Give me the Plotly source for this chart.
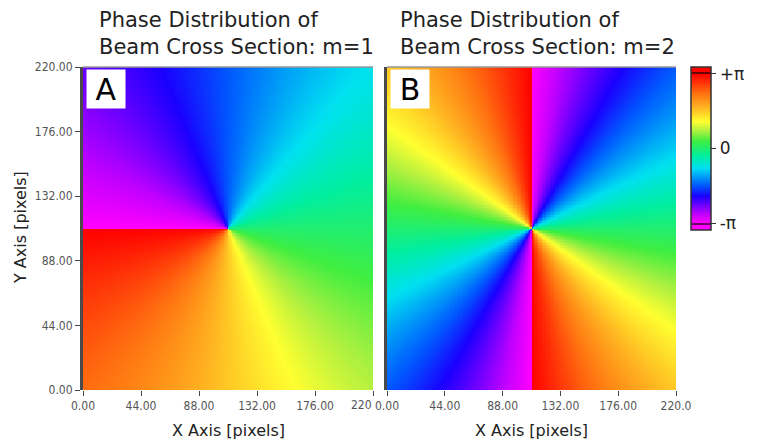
import numpy as np
import plotly.graph_objects as go

# ---- data ----
x_px = np.arange(0, 220) + 0.5          # pixel-centre x coordinates
y_px = np.arange(0, 220) + 0.5          # pixel-centre y coordinates
beam_center = [110.0, 110.0]            # vortex centre (x, y)
charges = [1, 2]                        # topological charge m for panels A, B
panel_letters = ["A", "B"]
tick_vals = [0, 44, 88, 132, 176, 220]
tick_text_a = ["0.00", "44.00", "88.00", "132.00", "176.00", ""]
tick_text_b = ["0.00", "44.00", "88.00", "132.00", "176.00", "220.0"]
y_tick_text = ["0.00", "44.00", "88.00", "132.00", "176.00", "220.00"]
clipped_label_a = "220"
cbar_vals = [-np.pi, 0, np.pi]
cbar_text = ["-π", "0", "+π"]

X, Y = np.meshgrid(x_px, y_px)
base_angle = np.arctan2(Y - beam_center[1], X - beam_center[0])


def phase_for(m):
    ph = -m * base_angle
    return np.angle(np.exp(1j * ph))


phases = [phase_for(m) for m in charges]

# ---- colour scale (u over -pi..+pi) ----
inner = [
    (0.00, "#ff00ff"),
    (0.06, "#c000ff"),
    (0.18, "#1a00ff"),
    (0.25, "#0058ff"),
    (0.37, "#00e0f0"),
    (0.45, "#00eea0"),
    (0.55, "#40ee40"),
    (0.62, "#b0f040"),
    (0.68, "#ffff30"),
    (0.78, "#ffb020"),
    (0.87, "#ff7010"),
    (1.00, "#ff0000"),
]
delta = 0.093 * np.pi
zmin, zmax = -np.pi - delta, np.pi + delta


def pos(v):
    return (v - zmin) / (zmax - zmin)


lo, hi = pos(-np.pi), pos(np.pi)
cscale = [[0.0, "#ff00ff"], [lo - 0.013, "#ff00ff"], [lo - 0.012, "#6a006a"], [lo - 0.002, "#6a006a"]]
for u, c in inner:
    cscale.append([pos(u * 2 * np.pi - np.pi), c])
cscale += [[hi + 0.002, "#6a0000"], [hi + 0.012, "#6a0000"], [hi + 0.013, "#ff0000"], [1.0, "#ff0000"]]

fig = go.Figure()
for i, ph in enumerate(phases):
    fig.add_trace(go.Heatmap(
        x=x_px, y=y_px, z=ph, coloraxis="coloraxis",
        xaxis="x" if i == 0 else "x2", yaxis="y" if i == 0 else "y2",
        hoverinfo="skip",
    ))

W, H = 760, 440
OFF = 8  # page body margin


def fx(px):
    return (px - OFF) / W


def fy(py):
    return 1 - (py - OFF) / H


ax_a = [fx(83), fx(373)]
ax_b = [fx(387), fx(676)]
ydom = [fy(390), fy(67)]

tickfont = dict(family="DejaVu Sans Condensed, Liberation Sans Narrow, sans-serif", size=12, color="#555")
common_x = dict(range=[0, 220], tickvals=tick_vals, ticks="outside", ticklen=5, tickwidth=1,
                tickcolor="#444", tickfont=tickfont, showgrid=False, zeroline=False,
                showline=False, automargin=False)
fig.update_layout(
    width=W, height=H,
    margin=dict(l=0, r=0, t=0, b=0, autoexpand=False),
    paper_bgcolor="white", plot_bgcolor="white",
    xaxis=dict(domain=ax_a, anchor="y", ticktext=tick_text_a, **common_x),
    xaxis2=dict(domain=ax_b, anchor="y2", ticktext=tick_text_b, **common_x),
    yaxis=dict(domain=ydom, anchor="x", range=[0, 220], tickvals=tick_vals, ticktext=y_tick_text,
               ticks="outside", ticklen=5, tickcolor="#444", tickfont=tickfont, automargin=False,
               showgrid=False, zeroline=False, showline=True, linecolor="#4a4a4a", linewidth=3),
    yaxis2=dict(domain=ydom, anchor="x2", range=[0, 220], showticklabels=False, ticks="", automargin=False,
                showgrid=False, zeroline=False, showline=True, linecolor="#4a4a4a", linewidth=3),
    coloraxis=dict(
        colorscale=cscale, cmin=zmin, cmax=zmax,
        colorbar=dict(
            x=fx(681), xanchor="left", y=fy(148.5), yanchor="middle",
            thickness=20, thicknessmode="pixels", len=163, lenmode="pixels",
            outlinecolor="#333", outlinewidth=1.5, xpad=10, ypad=0,
            tickvals=cbar_vals, ticktext=cbar_text, ticks="outside", ticklen=5,
            tickcolor="#333", tickfont=dict(family="DejaVu Sans, sans-serif", size=17, color="#222"),
        ),
    ),
    font=dict(family="DejaVu Sans, sans-serif"),
)

titles_x = [97, 398]
annotations = []
for i, m in enumerate(charges):
    annotations.append(dict(
        x=fx(titles_x[i]), y=fy(6), xref="paper", yref="paper", xanchor="left", yanchor="top",
        text=f"Phase Distribution of<br>Beam Cross Section: m={m}", showarrow=False, align="left",
        font=dict(family="DejaVu Sans, sans-serif", size=21, color="#222"),
    ))
    dom = ax_a if i == 0 else ax_b
    annotations.append(dict(
        x=(dom[0] + dom[1]) / 2, y=fy(430), xref="paper", yref="paper", xanchor="center",
        yanchor="middle", text="X Axis [pixels]", showarrow=False,
        font=dict(family="DejaVu Sans, sans-serif", size=16, color="#222"),
    ))
    annotations.append(dict(
        x=dom[0] + 3 / W, y=ydom[1] - 2 / H, xref="paper", yref="paper", xanchor="left", yanchor="top",
        text=panel_letters[i], showarrow=False, bgcolor="white", width=36, height=36,
        font=dict(family="DejaVu Sans, sans-serif", size=30, color="black"),
    ))
annotations.append(dict(
    x=fx(20), y=fy(228), xref="paper", yref="paper", xanchor="center", yanchor="middle",
    text="Y Axis [pixels]", textangle=-90, showarrow=False,
    font=dict(family="DejaVu Sans, sans-serif", size=16, color="#222"),
))
annotations.append(dict(
    x=fx(374), y=fy(405), xref="paper", yref="paper", xanchor="right", yanchor="middle",
    text=clipped_label_a, showarrow=False,
    font=tickfont,
))
fig.update_layout(annotations=annotations)

shapes = []
for dom in (ax_a, ax_b):
    shapes.append(dict(type="line", xref="paper", yref="paper", x0=dom[0], x1=dom[1],
                       y0=ydom[1], y1=ydom[1], line=dict(color="#999", width=1.5)))
fig.update_layout(shapes=shapes)

fig.write_html("out.html")
